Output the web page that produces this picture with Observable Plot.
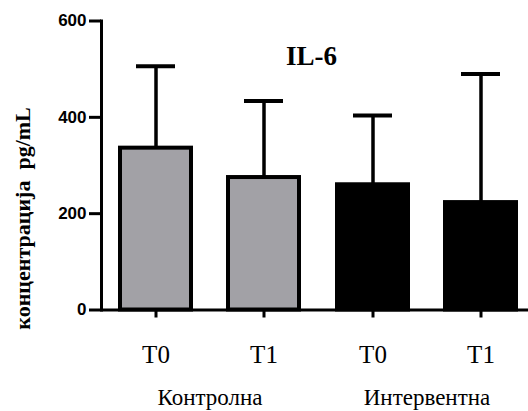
<!DOCTYPE html>
<html>
<head>
<meta charset="utf-8">
<script src="https://cdn.jsdelivr.net/npm/d3@7"></script>
<script src="https://cdn.jsdelivr.net/npm/@observablehq/plot@0.6"></script>
<style>
  body { margin: 0; background: #fff; }
  #chart { width: 528px; height: 411px; overflow: hidden; }
</style>
</head>
<body>
<div id="chart"></div>
<script>
const title = "IL-6";
const yLabel = "концентрација  pg/mL";
const groups = ["Контролна", "Интервентна"];
const timeLabels = ["T0", "T1"];
const barGroup = ["Контролна", "Контролна", "Интервентна", "Интервентна"];
const barTime = ["T0", "T1", "T0", "T1"];
const means = [336, 275, 260, 223];
const upperErr = [506, 434, 404, 490];
const yTicks = [0, 200, 400, 600];

const data = barTime.map((t, i) => ({group: barGroup[i], time: t, mean: means[i], upper: upperErr[i]}));

const chart = Plot.plot({
  width: 528,
  height: 411,
  marginLeft: 101,
  marginRight: 0,
  marginTop: 20.5,
  marginBottom: 101.5,
  style: {fontFamily: "Liberation Serif", fontSize: "22px", color: "black", background: "white"},
  fx: {domain: groups, range: [101, 535], padding: 0, label: null},
  x: {domain: timeLabels, paddingInner: 0.34, paddingOuter: 0.17, label: null},
  y: {domain: [0, 600], label: null},
  color: {domain: groups, range: ["#a2a1a6", "#000000"]},
  marks: [
    Plot.barY(data, {fx: "group", x: "time", y: "mean", fill: "group", stroke: "black", strokeWidth: 4}),
    Plot.ruleX(data, {fx: "group", x: "time", y1: "mean", y2: "upper", stroke: "black", strokeWidth: 3.5}),
    Plot.tickY(data, {fx: "group", x: "time", y: "upper", stroke: "black", strokeWidth: 4, insetLeft: 16, insetRight: 16}),
    Plot.ruleY([0], {stroke: "black", strokeWidth: 3}),
    Plot.frame({anchor: "left", facetAnchor: "left", stroke: "black", strokeWidth: 3}),
    Plot.axisY({ticks: yTicks, tickSize: 12, tickPadding: 3, strokeWidth: 3, fontSize: 17, fontWeight: "bold", fontFamily: "Liberation Sans", label: null}),
    Plot.axisX({tickSize: 8, tickPadding: 27, strokeWidth: 3, fontSize: 25, label: null}),
    Plot.axisFx({anchor: "bottom", tickSize: 0, tickPadding: 78.5, fontSize: 23, label: null}),
    Plot.text([yLabel], {fx: () => groups[0], frameAnchor: "left", rotate: -90, lineAnchor: "bottom", textAnchor: "middle", dx: -72, dy: 53, fontSize: 22, fontWeight: "bold"}),
    Plot.text([title], {fx: () => groups[0], frameAnchor: "top", lineAnchor: "bottom", textAnchor: "middle", dx: 101.5, dy: 43.5, fontSize: 27, fontWeight: "bold"})
  ]
});
document.getElementById("chart").appendChild(chart);
</script>
</body>
</html>
